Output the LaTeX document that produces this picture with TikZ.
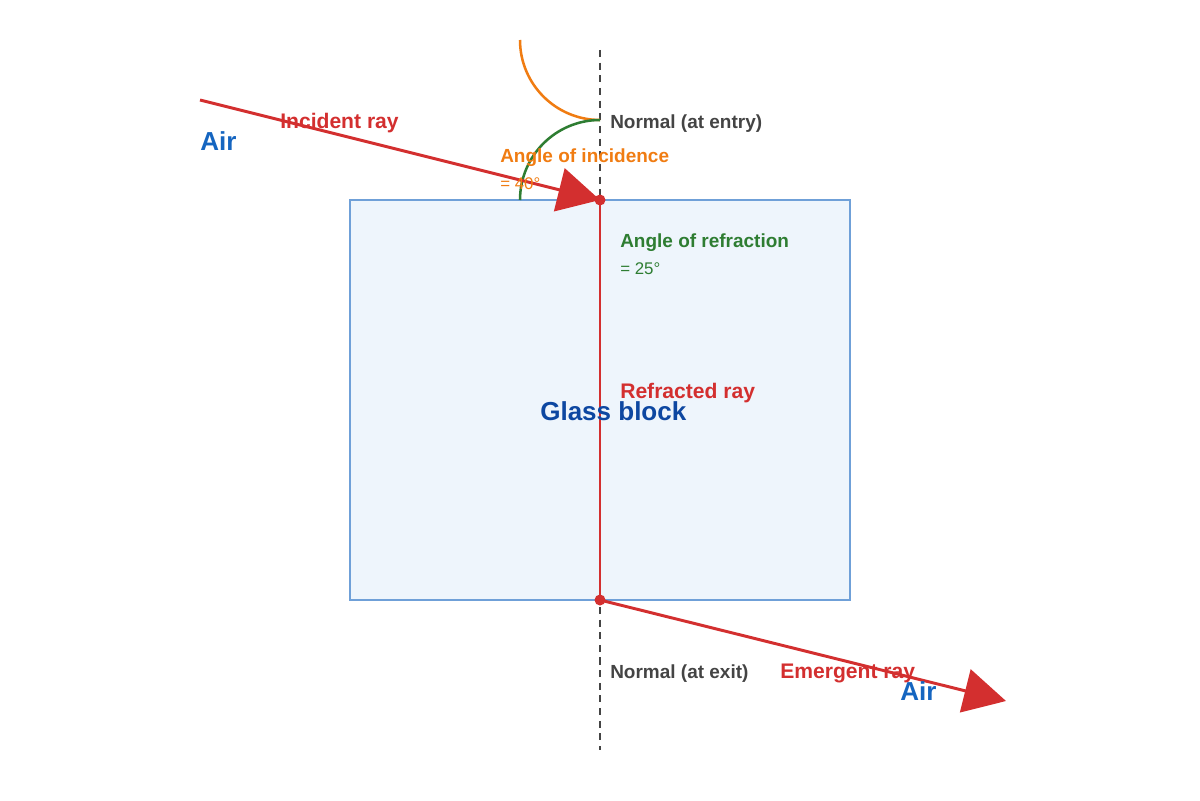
\documentclass[tikz,border=0pt]{standalone}
\usepackage{fontspec}
\setmainfont{Liberation Sans}
\usetikzlibrary{arrows.meta}
\definecolor{ray}{HTML}{D32F2F}
\definecolor{airc}{HTML}{1565C0}
\definecolor{glassc}{HTML}{0D47A1}
\definecolor{glassfill}{HTML}{EEF5FC}
\definecolor{glassdraw}{HTML}{6FA0D8}
\definecolor{orng}{HTML}{F07C12}
\definecolor{grn}{HTML}{2E7D32}
\definecolor{nrm}{HTML}{444444}
\begin{document}
\begin{tikzpicture}[x=0.025cm,y=-0.025cm,
  raystyle/.style={ray,line width=2.1pt},
  bigarrow/.style={-{Triangle[length=1.05cm,width=1.1cm]}},
  lbl/.style={anchor=west,inner sep=0pt,font=\bfseries\fontsize{13.5pt}{16pt}\selectfont},
  small/.style={anchor=west,inner sep=0pt,font=\fontsize{12pt}{14pt}\selectfont},
  big/.style={anchor=west,inner sep=0pt,font=\bfseries\fontsize{18.5pt}{22pt}\selectfont}]
\useasboundingbox (0,0) rectangle (1200,800);
\fill[glassfill] (350,200) rectangle (850,600);
\draw[glassdraw,line width=1.8pt] (350,200) rectangle (850,600);
\coordinate (ntop) at (600,50);
\coordinate (nbot) at (600,750);
\draw[nrm,dashed,line width=1.2pt,dash pattern=on 5pt off 4pt] (ntop) -- (nbot);
\coordinate (src) at (200,100);
\coordinate (entry) at (600,200);
\coordinate (exit) at (600,600);
\coordinate (out) at (1006,701);
\draw[orng,line width=1.8pt] (600,120) arc[start angle=90,end angle=180,radius=80];
\draw[grn,line width=1.8pt] (520,200) arc[start angle=180,end angle=270,radius=80];
\draw[raystyle,bigarrow] (src) -- (entry);
\draw[raystyle] (entry) -- (exit);
\draw[raystyle,bigarrow] (exit) -- (out);
\fill[ray] (entry) circle (5.5);
\fill[ray] (exit) circle (5.5);
\node[big,airc] (air1) at (200,141) {Air};
\node[lbl,ray,font=\bfseries\fontsize{15pt}{18pt}\selectfont] (inc) at (280,123) {Incident ray};
\node[lbl,nrm] (n1) at (610,124) {Normal (at entry)};
\node[lbl,orng] (aoi) at (500,158) {Angle of incidence};
\node[small,orng] (v1) at (500,184) {= 40°};
\node[lbl,grn] (aor) at (620,243) {Angle of refraction};
\node[small,grn] (v2) at (620,269) {= 25°};
\node[lbl,ray,font=\bfseries\fontsize{15pt}{18pt}\selectfont] (refr) at (620,393) {Refracted ray};
\node[big,glassc] (glass) at (540,411) {Glass block};
\node[lbl,nrm] (n2) at (610,674) {Normal (at exit)};
\node[lbl,ray,font=\bfseries\fontsize{15pt}{18pt}\selectfont] (em) at (780,673) {Emergent ray};
\node[big,airc] (air2) at (900,691) {Air};
\end{tikzpicture}
\end{document}
